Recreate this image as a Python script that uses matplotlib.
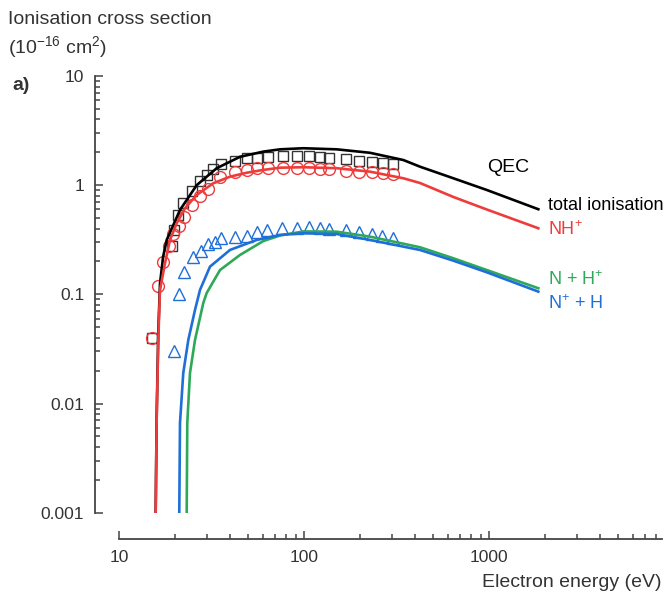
import numpy as np
import matplotlib
matplotlib.use("Agg")
import matplotlib.pyplot as plt
from matplotlib.ticker import LogLocator, FixedLocator, NullFormatter, FixedFormatter

plt.rcParams['font.family'] = ['Liberation Sans', 'DejaVu Sans']
plt.rcParams['mathtext.fontset'] = 'custom'
plt.rcParams['mathtext.rm'] = 'Liberation Sans'
plt.rcParams['mathtext.it'] = 'Liberation Sans:italic'
plt.rcParams['mathtext.bf'] = 'Liberation Sans:bold'

# ---- measured cross sections (10^-16 cm^2) ----
sq_energy = [15.0, 19.3, 19.8, 20.9, 22.3, 24.9, 27.4, 30.0, 32.3, 35.5, 42.4, 49, 56, 64,
             77, 92, 107, 122, 137, 169, 199, 234, 266, 302]
sq_total = [0.040, 0.28, 0.389, 0.528, 0.683, 0.885, 1.10, 1.24, 1.40, 1.56, 1.68, 1.77,
            1.79, 1.82, 1.85, 1.84, 1.84, 1.81, 1.77, 1.73, 1.68, 1.62, 1.59, 1.55]

ci_energy = [15.0, 16.3, 17.4, 18.6, 19.7, 21.1, 22.5, 24.7, 27.4, 30.2, 35.2, 42.4, 49,
             56, 64, 77, 92, 107, 122, 137, 169, 199, 234, 266, 302]
ci_nh = [0.040, 0.119, 0.199, 0.277, 0.354, 0.426, 0.508, 0.659, 0.796, 0.917, 1.197,
         1.33, 1.38, 1.43, 1.43, 1.43, 1.43, 1.43, 1.40, 1.40, 1.36, 1.32, 1.32, 1.285, 1.26]

tr_energy = [19.9, 21.2, 22.5, 25.0, 27.7, 30.4, 33.0, 35.6, 42.4, 49, 56, 63, 76, 92,
             107, 122, 137, 168, 199, 232, 265, 302]
tr_nplus = [0.0303, 0.101, 0.161, 0.221, 0.251, 0.288, 0.304, 0.327, 0.333, 0.345, 0.375,
            0.39, 0.408, 0.408, 0.412, 0.403, 0.397, 0.386, 0.370, 0.357, 0.345, 0.330]

# ---- QEC calculated cross sections ----
qec_total_e = [15.79, 15.98, 16.31, 16.66, 17.31, 18.11, 21.37, 26.3, 33.74, 45.1, 60.3,
               74.2, 99.1, 150.3, 227.4, 344.3, 423.6, 641.2, 971.9, 1847]
qec_total = [0.001, 0.0075, 0.045, 0.125, 0.22, 0.315, 0.593, 1.00, 1.43, 1.82, 2.03,
             2.13, 2.18, 2.13, 1.98, 1.70, 1.477, 1.157, 0.904, 0.602]

qec_nh_e = [15.79, 15.98, 16.31, 16.66, 17.73, 18.87, 20.51, 22.74, 26.3, 32.3, 39.81,
            49.0, 60.3, 74.2, 99.1, 150.3, 227.4, 344.3, 423.6, 641.2, 971.9, 1847]
qec_nh = [0.001, 0.00664, 0.0382, 0.1097, 0.1927, 0.315, 0.448, 0.614, 0.813, 1.04,
          1.196, 1.30, 1.38, 1.446, 1.46, 1.43, 1.33, 1.157, 1.047, 0.780, 0.599, 0.403]

qec_nhp_e = [23.23, 23.4, 24.2, 25.76, 28.56, 29.8, 35.16, 45.1, 60.3, 74.2, 99.1, 150.3,
             227.4, 423.6, 641.2, 971.9, 1847]
qec_nhp = [0.001, 0.00664, 0.01906, 0.0382, 0.0834, 0.103, 0.167, 0.2295, 0.308, 0.346,
           0.377, 0.375, 0.3377, 0.27, 0.214, 0.167, 0.1137]

qec_npl_e = [21.18, 21.37, 22.26, 23.7, 25.76, 27.41, 31.04, 39.81, 55.5, 74.2, 99.1,
             150.3, 227.4, 423.6, 641.2, 971.9, 1847]
qec_npl = [0.001, 0.00664, 0.01906, 0.0382, 0.072, 0.1097, 0.1794, 0.255, 0.315, 0.35,
           0.3627, 0.357, 0.315, 0.255, 0.2035, 0.1593, 0.1059]

y_ticks = [10, 1, 0.1, 0.01, 0.001]
y_tick_labels = ['10', '1', '0.1', '0.01', '0.001']
x_ticks = [10, 100, 1000]
x_tick_labels = ['10', '100', '1000']

BLACK = '#000000'
RED = '#ee3b3b'
GREEN = '#2ea95a'
BLUE = '#1f6fd8'
AXC = '#444444'

fig = plt.figure(figsize=(6.65, 5.99), dpi=100)
ax = fig.add_axes([0.1789, 0.1441, 0.8165, 0.729])
ax.set_xscale('log')
ax.set_yscale('log')
ax.set_xlim(10, 8600)
ax.set_ylim(0.001, 10)

ms = dict(linestyle='none', markerfacecolor='none', markeredgewidth=1.0)
ax.plot(sq_energy, sq_total, marker='s', markersize=7.5, markeredgecolor='#333333', **ms)
ax.plot(ci_energy, ci_nh, marker='o', markersize=8.5, markeredgecolor=RED, **ms)
ax.plot(tr_energy, tr_nplus, marker='^', markersize=8.5, markeredgecolor=BLUE, **ms)

lw = 1.9
ax.plot(qec_total_e, qec_total, color=BLACK, lw=lw)
ax.plot(qec_nhp_e, qec_nhp, color=GREEN, lw=lw)
ax.plot(qec_npl_e, qec_npl, color=BLUE, lw=lw)
ax.plot(qec_nh_e, qec_nh, color=RED, lw=lw)

# axes styling: detached spines, inward ticks
for s in ('top', 'right'):
    ax.spines[s].set_visible(False)
ax.spines['left'].set_position(('outward', 17))
ax.spines['bottom'].set_position(('outward', 19))
for s in ('left', 'bottom'):
    ax.spines[s].set_color(AXC)
    ax.spines[s].set_linewidth(1.3)

ax.yaxis.set_major_locator(FixedLocator(y_ticks))
ax.yaxis.set_major_formatter(FixedFormatter(y_tick_labels))
ax.yaxis.set_minor_locator(LogLocator(base=10, subs=np.arange(2, 10)))
ax.yaxis.set_minor_formatter(NullFormatter())
ax.xaxis.set_major_locator(FixedLocator(x_ticks))
ax.xaxis.set_major_formatter(FixedFormatter(x_tick_labels))
ax.xaxis.set_minor_locator(LogLocator(base=10, subs=np.arange(2, 10)))
ax.xaxis.set_minor_formatter(NullFormatter())
ax.tick_params(which='both', direction='in', color=AXC, width=1.1, labelcolor='#333333',
               labelsize=12.5)
ax.tick_params(which='major', length=6, pad=8)
ax.tick_params(which='minor', length=3.5)

fig.text(0.012, 0.968, 'Ionisation cross section', fontsize=14, color='#333333', va='center')
fig.text(0.012, 0.921, '(10$^{-16}$ cm$^{2}$)', fontsize=14, color='#333333', va='center')
fig.text(0.018, 0.857, 'a)', fontsize=14, fontweight='bold', color='#333333', va='center')
ax.set_xlabel('Electron energy (eV)', fontsize=14, color='#333333', loc='right', labelpad=6)

ax.text(1268, 1.437, 'QEC', fontsize=14, color=BLACK, ha='center', va='center')
ax.text(2084, 0.645, 'total ionisation', fontsize=13, color=BLACK, va='center')
ax.text(2084, 0.389, 'NH$^{+}$', fontsize=13, color=RED, va='center')
ax.text(2084, 0.1355, 'N + H$^{+}$', fontsize=13, color=GREEN, va='center')
ax.text(2084, 0.0817, 'N$^{+}$ + H', fontsize=13, color=BLUE, va='center')

fig.savefig('out.png', dpi=100)
